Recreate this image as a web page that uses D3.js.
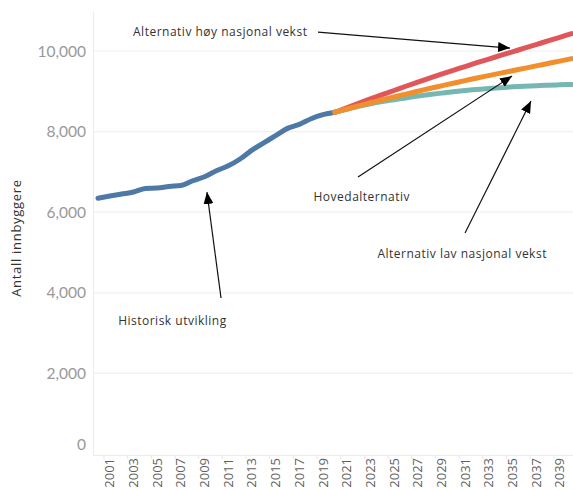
<!DOCTYPE html>
<html>
<head>
<meta charset="utf-8">
<script src="https://cdn.jsdelivr.net/npm/d3@7"></script>
<style>
html,body{margin:0;padding:0;background:#fff;}
svg{display:block;}
</style>
</head>
<body>
<svg id="chart" width="573" height="490"></svg>
<script>
// ---- data ----
const histYears = [2000,2001,2002,2003,2004,2005,2006,2007,2008,2009,2010,2011,2012,2013,2014,2015,2016,2017,2018,2019,2020];
const histValues = [6345,6400,6450,6500,6590,6600,6640,6660,6780,6880,7030,7150,7320,7540,7720,7900,8080,8180,8320,8420,8480];
const projYears = [2020,2021,2022,2023,2024,2025,2026,2027,2028,2029,2030,2031,2032,2033,2034,2035,2036,2037,2038,2039,2040];
const highValues = [8480,8590,8700,8810,8915,9020,9125,9225,9325,9425,9520,9615,9710,9800,9890,9980,10070,10160,10250,10340,10430];
const mainValues = [8480,8560,8640,8715,8790,8860,8930,9000,9070,9135,9200,9265,9330,9390,9450,9510,9570,9630,9690,9750,9810];
const lowValues  = [8480,8555,8625,8690,8745,8790,8835,8880,8920,8955,8990,9020,9045,9070,9090,9110,9125,9140,9152,9162,9170];
const yTicks = [0,2000,4000,6000,8000,10000];
const xTickYears = [2001,2003,2005,2007,2009,2011,2013,2015,2017,2019,2021,2023,2025,2027,2029,2031,2033,2035,2037,2039];
const yTitle = "Antall innbyggere";
// annotations: text anchor (year, value), arrow start & tip (year, value)
const annoTexts = [
  {text:"Alternativ høy nasjonal vekst", x:2002.96, v:10371},
  {text:"Hovedalternativ", x:2018.2, v:6270},
  {text:"Alternativ lav nasjonal vekst", x:2023.6, v:4860},
  {text:"Historisk utvikling", x:2001.7, v:3200}
];
const arrows = [
  {x1:2018.58, v1:10470, x2:2034.8, v2:10073},
  {x1:2021.96, v1:6872, x2:2034.97, v2:9378},
  {x1:2031.0, v1:5483, x2:2036.57, v2:8758},
  {x1:2010.39, v1:3870, x2:2009.2, v2:6500}
];

// ---- layout ----
const svg = d3.select("#chart");
const plotLeft = 93, plotRight = 573, plotTop = 12, plotBottom = 455;
const x = d3.scaleLinear().domain([2000, 2040]).range([98, 571.6]);
const y = d3.scaleLinear().domain([0, 10000]).range([454, 51]);

// gridlines
svg.append("g").selectAll("line").data(yTicks.filter(d=>d>0)).join("line")
  .attr("x1", plotLeft).attr("x2", plotRight)
  .attr("y1", d=>y(d)).attr("y2", d=>y(d))
  .attr("stroke", "#f0f0f0").attr("stroke-width", 1.2);

// axis frame
svg.append("line").attr("x1", plotLeft+0.5).attr("x2", plotLeft+0.5)
  .attr("y1", plotTop).attr("y2", plotBottom).attr("stroke", "#ececec");
svg.append("line").attr("x1", plotLeft).attr("x2", plotRight)
  .attr("y1", plotBottom+0.5).attr("y2", plotBottom+0.5).attr("stroke", "#ececec");

// y tick labels
svg.append("g").selectAll("text").data(yTicks).join("text")
  .attr("x", 86).attr("y", d => d===0 ? y(d)-10 : y(d))
  .attr("dy", "0.36em")
  .attr("text-anchor", "end")
  .attr("font-family", "Lato, sans-serif").attr("font-size", 15.5)
  .attr("fill", "#999")
  .text(d => d3.format(",")(d));

// y title
svg.append("text")
  .attr("transform", "translate(21,238) rotate(-90)")
  .attr("text-anchor", "middle")
  .attr("font-family", "'Open Sans', sans-serif").attr("font-size", 13)
  .attr("letter-spacing", 0.7)
  .attr("fill", "#333")
  .text(yTitle);

// x ticks (small) and labels
svg.append("g").selectAll("line").data(xTickYears).join("line")
  .attr("x1", d=>x(d)-5.9).attr("x2", d=>x(d)-5.9)
  .attr("y1", plotBottom).attr("y2", plotBottom+4)
  .attr("stroke", "#e6e6e6");
svg.append("g").selectAll("text").data(xTickYears).join("text")
  .attr("transform", d => `translate(${x(d)},458) rotate(-90)`)
  .attr("text-anchor", "end")
  .attr("dy", "0.35em")
  .attr("font-family", "'Open Sans', sans-serif").attr("font-size", 13)
  .attr("fill", "#5f5f5f")
  .text(d => d);

// lines
const line = d3.line().x(d=>x(d[0])).y(d=>y(d[1])).curve(d3.curveMonotoneX);
const series = [
  {years: histYears, vals: histValues, color: "#4e79a7"},
  {years: projYears, vals: highValues, color: "#e15759"},
  {years: projYears, vals: lowValues, color: "#76b7b2"},
  {years: projYears, vals: mainValues, color: "#f28e2b"}
];
svg.append("g").selectAll("path").data(series).join("path")
  .attr("d", s => line(s.years.map((yr,i)=>[yr, s.vals[i]])))
  .attr("fill", "none")
  .attr("stroke", s => s.color)
  .attr("stroke-width", 5)
  .attr("stroke-linecap", "round")
  .attr("stroke-linejoin", "round");

// arrows
svg.append("defs").append("marker")
  .attr("id", "arrowhead")
  .attr("viewBox", "0 0 12 10")
  .attr("refX", 12).attr("refY", 5)
  .attr("markerWidth", 12).attr("markerHeight", 10)
  .attr("markerUnits", "userSpaceOnUse")
  .attr("orient", "auto")
  .append("path").attr("d", "M0,0 L12,5 L0,10 Z").attr("fill", "#000");

svg.append("g").selectAll("line").data(arrows).join("line")
  .attr("x1", d=>x(d.x1)).attr("y1", d=>y(d.v1))
  .attr("x2", d=>x(d.x2)).attr("y2", d=>y(d.v2))
  .attr("stroke", "#111").attr("stroke-width", 1.2)
  .attr("marker-end", "url(#arrowhead)");

// annotation texts
svg.append("g").selectAll("text").data(annoTexts).join("text")
  .attr("x", d=>x(d.x)).attr("y", d=>y(d.v))
  .attr("font-family", "'Open Sans', sans-serif").attr("font-size", 12)
  .attr("letter-spacing", 0.5)
  .attr("fill", "#333")
  .text(d=>d.text);
</script>
</body>
</html>
